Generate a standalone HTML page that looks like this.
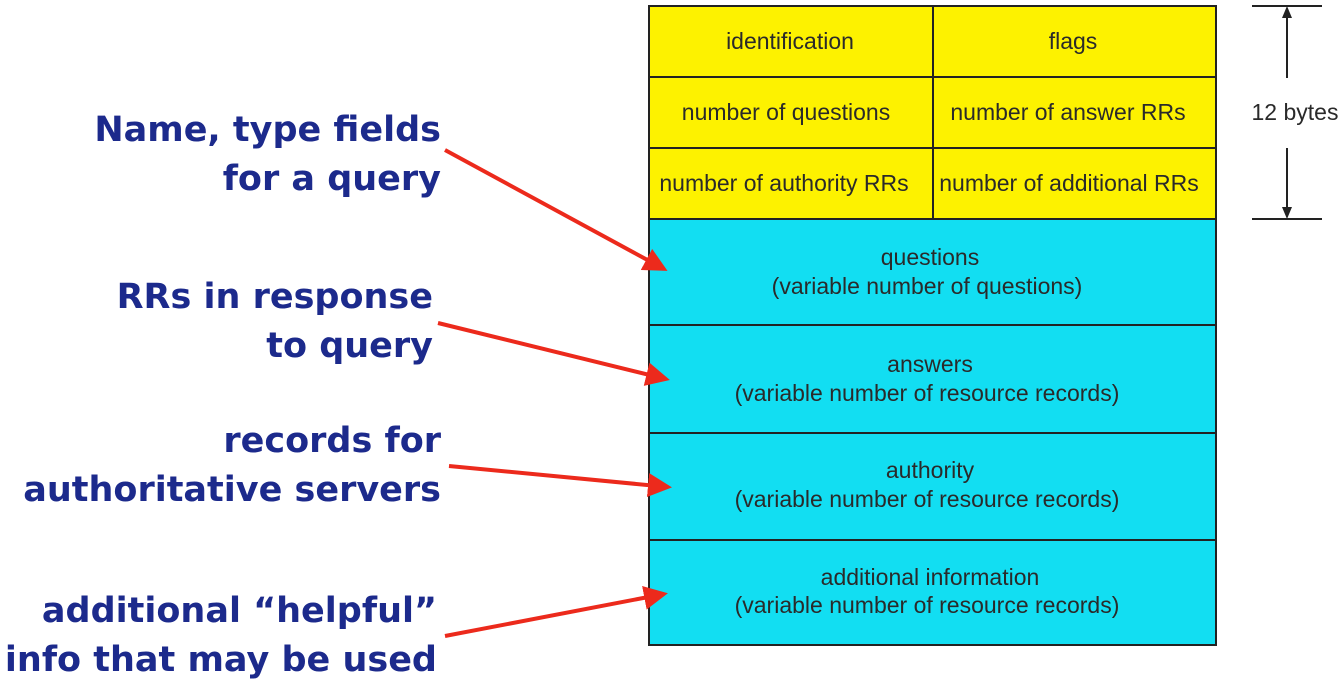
<!DOCTYPE html>
<html><head><meta charset="utf-8"><style>
html,body{margin:0;padding:0;background:#fff;width:1341px;height:694px;overflow:hidden}
svg{display:block}
.l{font-family:"DejaVu Sans","Liberation Sans",sans-serif;font-weight:bold;font-size:35px;fill:#1c2a8c;text-anchor:end}
.t{font-family:"Liberation Sans",sans-serif;font-size:23px;fill:#2a2a2a;text-anchor:middle}
</style></head><body>
<svg width="1341" height="694" viewBox="0 0 1341 694">
<defs><marker id="a" markerWidth="6" markerHeight="6" refX="5" refY="3" orient="auto" markerUnits="strokeWidth"><path d="M0,0 L6,3 L0,6 z" fill="#ec2a1c"/></marker></defs>
<rect x="649" y="6" width="567" height="213" fill="#fdf200"/>
<rect x="649" y="219" width="567" height="426" fill="#12def2"/>
<g stroke="#222" stroke-width="2" fill="none">
<rect x="649" y="6" width="567" height="639"/>
<line x1="649" y1="77" x2="1216" y2="77"/>
<line x1="649" y1="148" x2="1216" y2="148"/>
<line x1="649" y1="219" x2="1216" y2="219"/>
<line x1="649" y1="325" x2="1216" y2="325"/>
<line x1="649" y1="433" x2="1216" y2="433"/>
<line x1="649" y1="540" x2="1216" y2="540"/>
<line x1="933" y1="6" x2="933" y2="219"/>
<line x1="1252" y1="6" x2="1322" y2="6"/>
<line x1="1252" y1="219" x2="1322" y2="219"/>
<line x1="1287" y1="14" x2="1287" y2="78"/>
<line x1="1287" y1="148" x2="1287" y2="211"/>
</g>
<path d="M1287,6 l-5,12 h10z M1287,219 l-5,-12 h10z" fill="#222"/>
<text class="t" x="1295" y="120">12 bytes</text>
<text class="t" x="790" y="49">identification</text>
<text class="t" x="1073" y="49">flags</text>
<text class="t" x="786" y="120">number of questions</text>
<text class="t" x="1068" y="120">number of answer RRs</text>
<text class="t" x="784" y="191">number of authority RRs</text>
<text class="t" x="1069" y="191">number of additional RRs</text>
<text class="t" x="930" y="265">questions</text>
<text class="t" x="927" y="294">(variable number of questions)</text>
<text class="t" x="930" y="372">answers</text>
<text class="t" x="927" y="401">(variable number of resource records)</text>
<text class="t" x="930" y="478">authority</text>
<text class="t" x="927" y="507">(variable number of resource  records)</text>
<text class="t" x="930" y="585">additional information</text>
<text class="t" x="927" y="613">(variable number of resource records)</text>
<text class="l" x="441" y="141">Name, type fields</text>
<text class="l" x="441" y="190">for a query</text>
<text class="l" x="433" y="308">RRs in response</text>
<text class="l" x="433" y="357">to query</text>
<text class="l" x="441" y="452">records for</text>
<text class="l" x="441" y="501">authoritative servers</text>
<text class="l" x="437" y="622">additional “helpful”</text>
<text class="l" x="437" y="671">info that may be used</text>
<g stroke="#ec2a1c" stroke-width="4" marker-end="url(#a)">
<line x1="445" y1="150" x2="664" y2="269"/>
<line x1="438" y1="323" x2="666" y2="379"/>
<line x1="449" y1="466" x2="668" y2="487"/>
<line x1="445" y1="636" x2="664" y2="594"/>
</g>
</svg>
</body></html>
